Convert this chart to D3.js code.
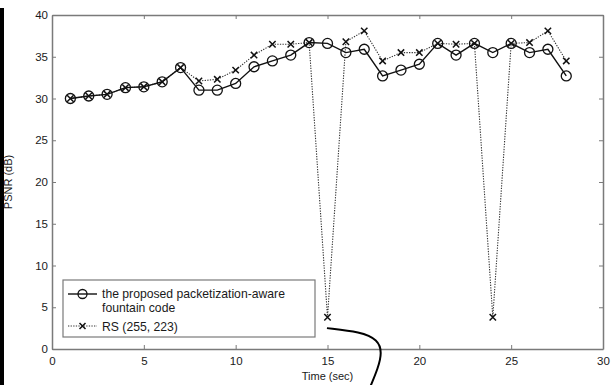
<!DOCTYPE html>
<html>
<head>
<meta charset="utf-8">
<script src="https://cdn.jsdelivr.net/npm/d3@7"></script>
<style>
  body { margin: 0; background: #fff; }
  text { font-family: Arial, "Liberation Sans", sans-serif; fill: #1a1a1a; }
</style>
</head>
<body>
<figure id="psnr" style="margin:0"></figure>
<script>
// time in seconds
const times = d3.range(1, 29);
const proposed = [30.0, 30.3, 30.5, 31.3, 31.4, 32.0, 33.7, 31.0, 31.0, 31.8,
  33.8, 34.5, 35.2, 36.7, 36.6, 35.5, 35.9, 32.7, 33.4, 34.1,
  36.6, 35.2, 36.6, 35.5, 36.6, 35.5, 35.9, 32.7];
const rs = [30.0, 30.3, 30.5, 31.3, 31.4, 32.0, 33.7, 32.1, 32.3, 33.4,
  35.2, 36.5, 36.5, 36.7, 3.8, 36.8, 38.1, 34.5, 35.5, 35.5,
  36.6, 36.5, 36.6, 3.8, 36.6, 36.7, 38.1, 34.5];
const xTicks = [0, 5, 10, 15, 20, 25, 30];
const yTicks = [0, 5, 10, 15, 20, 25, 30, 35, 40];
const legendLabels = [["the proposed packetization-aware", "fountain code"], ["RS (255, 223)"]];
// hand drawn bracket below the plot (data units)
const annot = [[14.97, 2.5], [16.8, 2.05], [17.75, 1.1], [17.97, -0.4], [17.75, -2.3], [17.35, -4.4]];

const W = 615, H = 385;
const m = { left: 52, right: 12, top: 15, bottom: 36 };
const w = W - m.left - m.right, h = H - m.top - m.bottom;

const svg = d3.select("figure#psnr").append("svg")
  .attr("width", W).attr("height", H);

// dark strip at the left edge of the scan
svg.append("rect").attr("x", 0).attr("y", 8).attr("width", 4).attr("height", H - 8).attr("fill", "#000");

const g = svg.append("g").attr("transform", "translate(" + m.left + "," + m.top + ")");

const x = d3.scaleLinear().domain([0, 30]).range([0, w]);
const y = d3.scaleLinear().domain([0, 40]).range([h, 0]);

const frame = "#7a7a7a";

// Axes (ticks inward, mirrored on top/right)
const ax = (a) => a.tickSizeInner(-4).tickSizeOuter(0).tickPadding(6);
const xb = g.append("g").attr("transform", "translate(0," + h + ")")
  .call(ax(d3.axisBottom(x).tickValues(xTicks)));
const yl = g.append("g").call(ax(d3.axisLeft(y).tickValues(yTicks)));
const xt = g.append("g").call(ax(d3.axisTop(x).tickValues(xTicks)).tickFormat(""));
const yr = g.append("g").attr("transform", "translate(" + w + ",0)")
  .call(ax(d3.axisRight(y).tickValues(yTicks)).tickFormat(""));
[xb, yl, xt, yr].forEach(a => {
  a.select(".domain").attr("stroke", frame).attr("stroke-width", 1.5);
  a.selectAll(".tick line").attr("stroke", frame);
  a.selectAll("text").attr("font-size", 11.5).attr("fill", "#1a1a1a");
});
yl.selectAll("text").attr("dx", 2);
xb.selectAll("text").attr("dy", "0.9em");

// Axis labels
g.append("text").attr("x", w / 2).attr("y", h + 31).attr("text-anchor", "middle")
  .attr("font-size", 11).text("Time (sec)");
g.append("text").attr("transform", "translate(" + (-40) + "," + (h / 2) + ") rotate(-90)")
  .attr("text-anchor", "middle").attr("font-size", 11).text("PSNR (dB)");

const line = (vals) => d3.line().x((d, i) => x(times[i])).y(d => y(d))(vals);

// RS (255, 223)
g.append("path").attr("d", line(rs)).attr("fill", "none").attr("stroke", "#333")
  .attr("stroke-width", 1.1).attr("stroke-dasharray", "1.3,1.3");
const cross = (sel, s) => sel.append("path")
  .attr("d", "M" + (-s) + "," + (-s) + "L" + s + "," + s + "M" + (-s) + "," + s + "L" + s + "," + (-s))
  .attr("stroke", "#111").attr("stroke-width", 1.5);
g.append("g").selectAll("g").data(rs).enter().append("g")
  .attr("transform", (d, i) => "translate(" + x(times[i]) + "," + y(d) + ")")
  .call(sel => cross(sel, 3.2));

// proposed
g.append("path").attr("d", line(proposed)).attr("fill", "none").attr("stroke", "#111")
  .attr("stroke-width", 1.4);
g.append("g").selectAll("circle").data(proposed).enter().append("circle")
  .attr("cx", (d, i) => x(times[i])).attr("cy", d => y(d)).attr("r", 5)
  .attr("fill", "none").attr("stroke", "#111").attr("stroke-width", 1.3);

// Legend
const lg = svg.append("g").attr("transform", "translate(63,280)");
lg.append("rect").attr("width", 252).attr("height", 57).attr("fill", "#fff")
  .attr("stroke", frame).attr("stroke-width", 1.2);
lg.append("line").attr("x1", 5).attr("x2", 34).attr("y1", 14).attr("y2", 14)
  .attr("stroke", "#111").attr("stroke-width", 1.4);
lg.append("circle").attr("cx", 19.5).attr("cy", 14).attr("r", 4.5)
  .attr("fill", "none").attr("stroke", "#111").attr("stroke-width", 1.3);
lg.append("line").attr("x1", 5).attr("x2", 34).attr("y1", 46).attr("y2", 46)
  .attr("stroke", "#333").attr("stroke-width", 1.1).attr("stroke-dasharray", "1.3,1.3");
lg.append("g").attr("transform", "translate(19.5,46)").call(sel => cross(sel, 3));
lg.append("text").attr("x", 39).attr("y", 18).attr("font-size", 12.2).text(legendLabels[0][0]);
lg.append("text").attr("x", 39).attr("y", 32).attr("font-size", 12.2).text(legendLabels[0][1]);
lg.append("text").attr("x", 39).attr("y", 51).attr("font-size", 12.2).text(legendLabels[1][0]);

// annotation bracket
g.append("path").attr("d", d3.line().x(d => x(d[0])).y(d => y(d[1])).curve(d3.curveBasis)(
    [annot[0]].concat(annot, [annot[annot.length - 1]])))
  .attr("fill", "none").attr("stroke", "#000").attr("stroke-width", 2);
</script>
</body>
</html>
